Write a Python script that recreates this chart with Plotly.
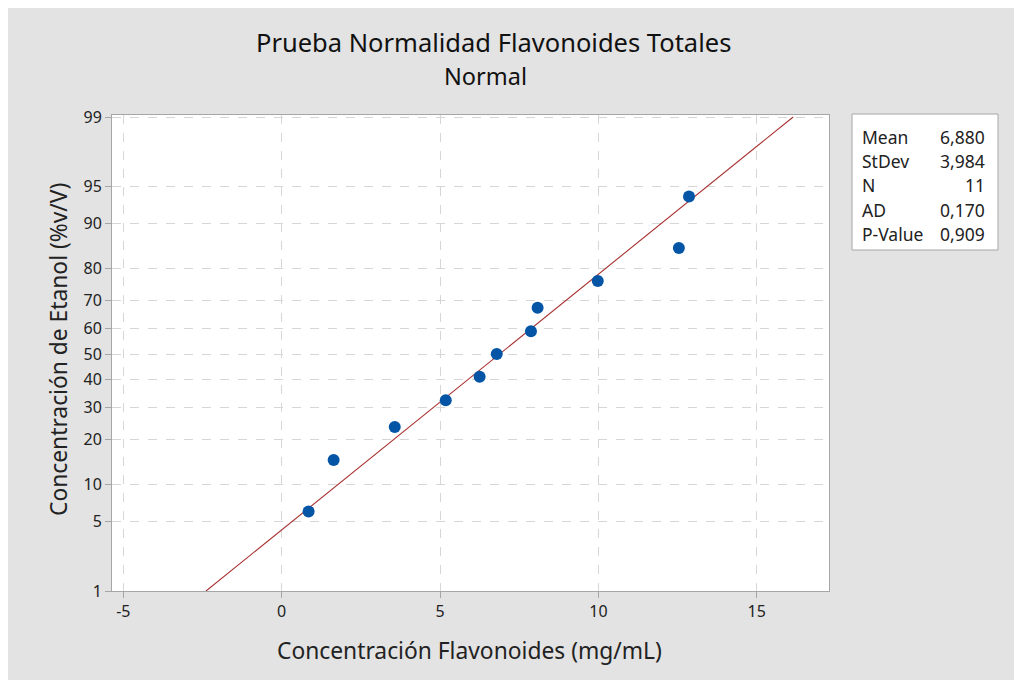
import plotly.graph_objects as go
from statistics import NormalDist

# ---- data ----
flavonoides = [0.85, 1.64, 3.57, 5.18, 6.25, 6.79, 7.87, 8.08, 9.98, 12.54, 12.86]
percentiles = [6.1, 14.9, 23.7, 32.5, 41.2, 50.0, 58.8, 67.5, 76.3, 85.1, 93.9]
mean_val = 6.880
stdev_val = 3.984
stats_labels = ["Mean", "StDev", "N", "AD", "P-Value"]
stats_values = ["6,880", "3,984", "11", "0,170", "0,909"]
y_tick_pct = [1, 5, 10, 20, 30, 40, 50, 60, 70, 80, 90, 95, 99]
x_tick_vals = [-5, 0, 5, 10, 15]
line_pct = [1, 99]

nd = NormalDist()
z = lambda p: nd.inv_cdf(p / 100.0)

FONT = "Noto Sans"

fig = go.Figure()

# fitted line
line_z = [z(p) for p in line_pct]
line_x = [mean_val + stdev_val * zz for zz in line_z]
fig.add_trace(go.Scatter(x=line_x, y=line_z, mode="lines",
                         line=dict(color="#a83030", width=1.1),
                         hoverinfo="skip", showlegend=False))

# data points
fig.add_trace(go.Scatter(x=flavonoides, y=[z(p) for p in percentiles], mode="markers",
                         marker=dict(color="#0455a6", size=12),
                         showlegend=False))

# page offset (body margin) and plot area in screen pixels
OFF = 8
L, R, T, B = 112, 829, 115, 591          # screen coords
W, H = 1014 - OFF, 680 - OFF

def px(xp):
    return (xp - L) / (R - L)

def py(yp):
    return (B - yp) / (B - T)

axis_common = dict(showline=True, linecolor="#a6a6a6", linewidth=1, mirror=True,
                   ticks="outside", ticklen=6, tickcolor="#a6a6a6",
                   showgrid=True, gridcolor="#d6d6d6", griddash="dash", gridwidth=1,
                   zeroline=False, tickfont=dict(family=FONT, size=16, color="#222"))

fig.update_xaxes(range=[-5.357, 17.28], tickvals=x_tick_vals,
                 ticktext=[str(v) for v in x_tick_vals], **axis_common)
fig.update_yaxes(range=[z(1), 2.346], tickvals=[z(p) for p in y_tick_pct],
                 ticktext=[str(p) for p in y_tick_pct], **axis_common)

annotations = []
# titles
annotations.append(dict(text="Prueba Normalidad Flavonoides Totales", x=px(494), y=py(42),
                        xref="paper", yref="paper", showarrow=False, xanchor="center", yanchor="middle",
                        font=dict(family=FONT, size=25.5, color="#111")))
annotations.append(dict(text="Normal", x=px(485), y=py(76),
                        xref="paper", yref="paper", showarrow=False, xanchor="center", yanchor="middle",
                        font=dict(family=FONT, size=23.5, color="#111")))
# axis titles
annotations.append(dict(text="Concentración Flavonoides (mg/mL)", x=px(469), y=py(650),
                        xref="paper", yref="paper", showarrow=False, xanchor="center", yanchor="middle",
                        font=dict(family=FONT, size=22.8, color="#222")))
annotations.append(dict(text="Concentración de Etanol (%v/V)", x=px(58), y=py(350),
                        xref="paper", yref="paper", showarrow=False, xanchor="center", yanchor="middle",
                        textangle=-90, font=dict(family=FONT, size=22.8, color="#222")))
# stats box text
for i, (lab, val) in enumerate(zip(stats_labels, stats_values)):
    yy = 137 + i * 24.2
    annotations.append(dict(text=lab, x=px(860), y=py(yy), xref="paper", yref="paper",
                            showarrow=False, xanchor="left", yanchor="middle",
                            font=dict(family=FONT, size=17.5, color="#222")))
    annotations.append(dict(text=val, x=px(987), y=py(yy), xref="paper", yref="paper",
                            showarrow=False, xanchor="right", yanchor="middle",
                            font=dict(family=FONT, size=17.5, color="#222")))

shapes = [
    dict(type="rect", xref="paper", yref="paper", x0=px(852), x1=px(998), y0=py(250), y1=py(114),
         fillcolor="white", line=dict(color="#a6a6a6", width=1)),
]

fig.update_layout(width=W, height=H, autosize=False,
                  margin=dict(l=L - OFF, r=W - (R - OFF), t=T - OFF, b=H - (B - OFF), pad=0),
                  paper_bgcolor="#e3e3e3", plot_bgcolor="white",
                  annotations=annotations, shapes=shapes, showlegend=False,
                  font=dict(family=FONT))

fig.write_html("out.html",
               post_script="document.documentElement.style.overflow='hidden';"
                           "document.body.style.overflow='hidden';"
                           "document.body.style.margin='8px 0 0 8px';")
